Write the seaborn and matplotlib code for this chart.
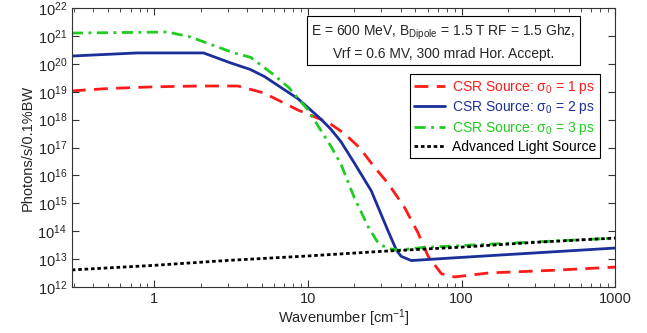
import matplotlib
matplotlib.use('Agg')
import matplotlib.pyplot as plt
import matplotlib.ticker as mticker
import seaborn as sns

# values (wavenumber in cm^-1, photons/s/0.1%BW)
wn_1ps = [0.29, 0.5, 1.0, 2.0, 3.5, 5.16, 8.6, 13.5, 17.2, 21.6, 27, 33, 42.3, 52, 60.5, 73.8, 90, 150, 400, 1000]
flux_1ps = [1.07e19, 1.3e19, 1.5e19, 1.6e19, 1.6e19, 9e18, 2.2e18, 8e17, 3.2e17, 1e17, 2e16, 5.4e15,
            7.4e14, 8.7e13, 1.26e13, 3e12, 2.3e12, 3.2e12, 4e12, 5.2e12]

wn_2ps = [0.29, 0.77, 2.09, 3.14, 4.2, 5.2, 8.6, 12, 14.1, 16.4, 20, 25.8, 33, 37.6, 40.4, 47, 86, 1000]
flux_2ps = [1.9e20, 2.45e20, 2.45e20, 1.07e20, 6.3e19, 3.5e19, 5.6e18, 1.1e18, 4.5e17, 1.6e17, 2.8e16, 2.8e15,
            1.1e14, 2.1e13, 1.26e13, 8.9e12, 1.1e13, 2.5e13]

wn_3ps = [0.29, 1.22, 1.72, 3.3, 4.24, 6.0, 7.5, 10, 14.1, 16.4, 20, 24.7, 28.6, 33, 38.7, 55, 116, 1000]
flux_3ps = [1.26e21, 1.38e21, 9.1e20, 2.45e20, 1.7e20, 4e19, 1.4e19, 2.2e18, 1.1e17, 2.5e16, 1.6e15,
            1.4e14, 3.8e13, 2.4e13, 2.1e13, 2.6e13, 3.2e13, 5.7e13]

wn_als = [0.29, 1, 3, 10, 30, 100, 300, 1000]
flux_als = [4.1e12, 6e12, 9e12, 1.3e13, 1.9e13, 2.7e13, 4e13, 5.7e13]

x_ticks = [1, 10, 100, 1000]
y_ticks = [1e12, 1e13, 1e14, 1e15, 1e16, 1e17, 1e18, 1e19, 1e20, 1e21, 1e22]

labels = ['CSR Source: σ$_0$ = 1 ps', 'CSR Source: σ$_0$ = 2 ps',
          'CSR Source: σ$_0$ = 3 ps', 'Advanced Light Source']
colors = ['#ff1a1a', '#1a2f9a', '#1fcc1f', 'black']

sns.set_style('ticks')
plt.rcParams['font.family'] = ['Liberation Sans', 'DejaVu Sans']
plt.rcParams['mathtext.fontset'] = 'custom'
plt.rcParams['mathtext.rm'] = 'Liberation Sans'
plt.rcParams['mathtext.it'] = 'Liberation Sans:italic'

fig = plt.figure(figsize=(6.47, 3.33), dpi=100)
ax = fig.add_axes([0.111, 0.138, 0.840, 0.838])

series = [(wn_1ps, flux_1ps), (wn_2ps, flux_2ps), (wn_3ps, flux_3ps), (wn_als, flux_als)]
dash_styles = [(5, 3), None, (4, 2, 1, 2), (1.3, 1.0)]
handles = []
for (xs, ys), col, lab, ds in zip(series, colors, labels, dash_styles):
    sns.lineplot(x=xs, y=ys, ax=ax, color=col, linewidth=2, label=lab)
    line = ax.lines[-1]
    if ds is not None:
        line.set_dashes(ds)
    handles.append(line)

ax.set_xscale('log')
ax.set_yscale('log')
ax.set_xlim(0.29, 1000)
ax.set_ylim(1e12, 1e22)
ax.yaxis.set_major_locator(mticker.FixedLocator(y_ticks))
ax.yaxis.set_major_formatter(mticker.LogFormatterSciNotation())
ax.yaxis.set_minor_locator(mticker.NullLocator())
ax.xaxis.set_major_locator(mticker.FixedLocator(x_ticks))
ax.xaxis.set_major_formatter(mticker.FuncFormatter(lambda v, _: f'{v:g}'))
ax.xaxis.set_minor_locator(mticker.LogLocator(base=10, subs=range(2, 10), numticks=15))
ax.xaxis.set_minor_formatter(mticker.NullFormatter())
ax.tick_params(which='both', direction='in', top=True, right=True, labelsize=10.5, color='#333333')
ax.tick_params(which='major', length=5)
ax.tick_params(which='minor', length=3)
for sp in ax.spines.values():
    sp.set_color('#333333')
    sp.set_linewidth(0.8)

ax.set_xlabel('Wavenumber [cm$^{-1}$]', fontsize=10.5, labelpad=1)
ax.set_ylabel('Photons/s/0.1%BW', fontsize=10.5, labelpad=2)

leg = ax.legend(handles=handles, labels=labels, loc='upper right', bbox_to_anchor=(0.972, 0.762),
                fontsize=10, frameon=True, fancybox=False, edgecolor='black', framealpha=1,
                handlelength=2.2, handletextpad=0.5, borderpad=0.3, labelspacing=0.25, borderaxespad=0)
leg.get_frame().set_linewidth(0.8)
for txt, col in zip(leg.get_texts(), colors):
    txt.set_color(col)

ax.text(0.684, 0.878,
        'E = 600 MeV, B$_{\\mathrm{Dipole}}$ = 1.5 T RF = 1.5 Ghz,\nVrf = 0.6 MV, 300 mrad Hor. Accept.',
        transform=ax.transAxes, ha='center', va='center', multialignment='center', fontsize=10,
        linespacing=1.4,
        bbox=dict(boxstyle='square,pad=0.3', fc='white', ec='black', lw=0.8))

plt.savefig('out.png', dpi=100)
plt.close()
